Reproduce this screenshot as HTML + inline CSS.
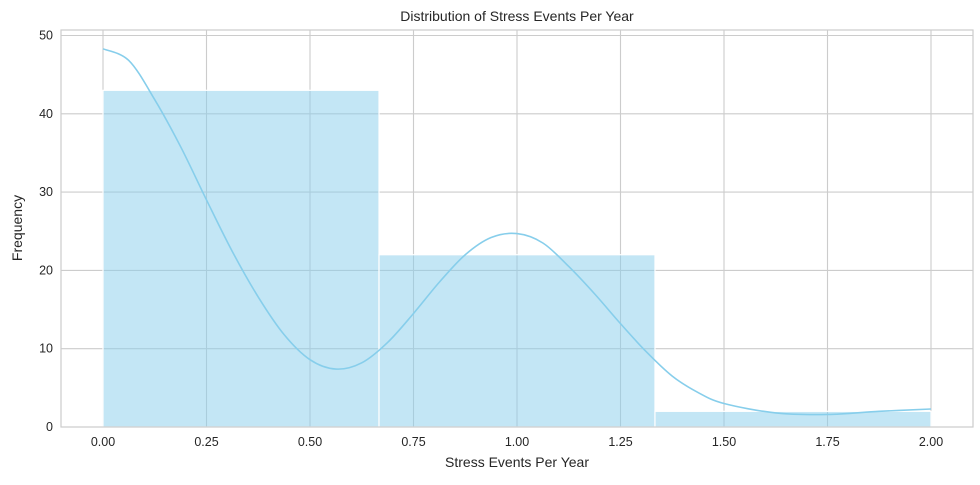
<!DOCTYPE html>
<html><head><meta charset="utf-8"><style>
body{margin:0;background:#fff;}
svg text{font-family:"Liberation Sans",sans-serif;fill:#262626;}
</style></head><body>
<svg id="chart" width="980" height="480" xmlns="http://www.w3.org/2000/svg">
<text x="517" y="21" font-size="14" text-anchor="middle">Distribution of Stress Events Per Year</text>
<g id="grid"></g>
<g id="bars"></g>
<path id="kde" fill="none" stroke="#87ceeb" stroke-width="1.6"/>
<rect x="61" y="30" width="912" height="397" fill="none" stroke="#cccccc" stroke-width="1.2"/>
<g id="ticks"></g>
<text x="517" y="467" font-size="14" text-anchor="middle">Stress Events Per Year</text>
<text transform="translate(22,228) rotate(-90)" font-size="14" text-anchor="middle">Frequency</text>
</svg>
<script>
const binEdges=[0,0.6667,1.3333,2.0];
const binCounts=[43,22,2];
const xTicks=[0,0.25,0.5,0.75,1.0,1.25,1.5,1.75,2.0];
const xTickLabels=["0.00","0.25","0.50","0.75","1.00","1.25","1.50","1.75","2.00"];
const yTicks=[0,10,20,30,40,50];
const kdeX=[0,0.0625,0.125,0.1875,0.25,0.3125,0.375,0.4375,0.5,0.5625,0.625,0.6875,0.75,0.8125,0.875,0.9375,1.0,1.0625,1.125,1.1875,1.25,1.3125,1.375,1.4375,1.5,1.625,1.75,1.875,2.0];
const kdeY=[48.3,46.8,41.8,35.8,29,22.4,16.6,11.8,8.6,7.4,8.2,10.8,14.5,18.5,22,24.2,24.7,23.5,20.5,17,13.2,9.6,6.5,4.4,3.0,1.8,1.6,2.0,2.3];
const NS="http://www.w3.org/2000/svg";
const X=v=>103+v*414, Y=v=>427-v*7.83;
const grid=document.getElementById('grid'),ticks=document.getElementById('ticks'),bars=document.getElementById('bars');
function mk(tag,attrs,parent){const e=document.createElementNS(NS,tag);for(const k in attrs)e.setAttribute(k,attrs[k]);parent.appendChild(e);return e;}
xTicks.forEach((t,i)=>{
 const l=mk('line',{x1:X(t),x2:X(t),y1:30,y2:427,stroke:'#cccccc','stroke-width':1.1},grid);
 
 
 const tx=mk('text',{x:X(t),y:446,'font-size':12.5,'text-anchor':'middle'},ticks);
 tx.textContent=xTickLabels[i];
 
 
});
yTicks.forEach(t=>{
 const l=mk('line',{x1:61,x2:973,y1:Y(t),y2:Y(t),stroke:'#cccccc','stroke-width':1.1},grid);
 
 
 const tx=mk('text',{x:53,y:Y(t)+4,'font-size':12.5,'text-anchor':'end'},ticks);
 tx.textContent=t;
 
 
});
binCounts.forEach((c,i)=>{
 const x0=X(binEdges[i]),x1=X(binEdges[i+1]);
 const r=mk('rect',{x:x0,y:Y(c),width:x1-x0,height:Y(0)-Y(c),fill:'rgba(135,206,235,0.5)',stroke:'#ffffff','stroke-width':1.2},bars);
 
 
});
const pts=kdeX.map((x,i)=>[X(x),Y(kdeY[i])]);
let d='M'+pts[0][0]+','+pts[0][1];
for(let i=0;i<pts.length-1;i++){
 const p0=pts[Math.max(0,i-1)],p1=pts[i],p2=pts[i+1],p3=pts[Math.min(pts.length-1,i+2)];
 const c1=[p1[0]+(p2[0]-p0[0])/6,p1[1]+(p2[1]-p0[1])/6],c2=[p2[0]-(p3[0]-p1[0])/6,p2[1]-(p3[1]-p1[1])/6];
 d+=`C${c1[0]},${c1[1]} ${c2[0]},${c2[1]} ${p2[0]},${p2[1]}`;
}
document.getElementById('kde').setAttribute('d',d);
</script>
</body></html>
